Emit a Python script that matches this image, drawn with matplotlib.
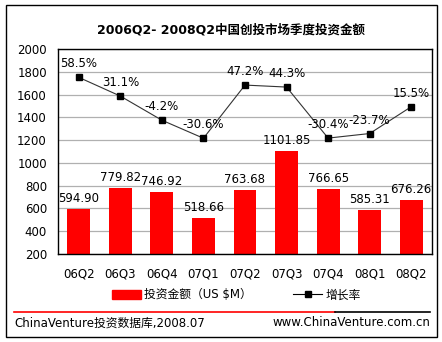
import matplotlib
matplotlib.use("Agg")
import matplotlib.pyplot as plt
from matplotlib.patches import Rectangle
from matplotlib.lines import Line2D

plt.rcParams['font.family'] = ['DejaVu Sans', 'Noto Sans CJK SC']

quarters = ['06Q2', '06Q3', '06Q4', '07Q1', '07Q2', '07Q3', '07Q4', '08Q1', '08Q2']
amounts = [594.90, 779.82, 746.92, 518.66, 763.68, 1101.85, 766.65, 585.31, 676.26]
growth = [58.5, 31.1, -4.2, -30.6, 47.2, 44.3, -30.4, -23.7, 15.5]

W, H = 442, 342
fig = plt.figure(figsize=(W / 100, H / 100), dpi=100)

def px(x0, y0, x1, y1):
    # pixel box (top-left origin) -> figure fraction rect
    return [x0 / W, 1 - y1 / H, (x1 - x0) / W, (y1 - y0) / H]

ax = fig.add_axes(px(58, 49, 432, 254))
x = range(len(quarters))
ax.bar(x, amounts, width=0.55, color='#ff0000', zorder=2)
ax.set_ylim(200, 2000)
ax.set_xlim(-0.5, len(quarters) - 0.5)
ax.set_yticks(range(200, 2001, 200))
ax.set_xticks(list(x))
ax.set_xticklabels(quarters)
ax.tick_params(length=0, labelsize=8.5, pad=10)
ax.tick_params(axis='y', pad=8)
ax.grid(axis='y', color='#b0b0b0', linewidth=0.9, zorder=0)
for s in ax.spines.values():
    s.set_linewidth(1.0)
for xi, v in zip(x, amounts):
    ax.annotate(f'{v:.2f}', (xi, v), xytext=(0, 3), textcoords='offset points',
                ha='center', va='bottom', fontsize=8.5)

ax2 = ax.twinx()
ax2.set_ylim(-200, 100)
ax2.plot(x, growth, color='#333333', linewidth=0.8, marker='s', markersize=5,
         markerfacecolor='black', markeredgecolor='black', zorder=3)
ax2.set_yticks([])
for s in ax2.spines.values():
    s.set_visible(False)
for xi, g in zip(x, growth):
    ax2.annotate(f'{g:.1f}%', (xi, g), xytext=(0, 5), textcoords='offset points',
                 ha='center', va='bottom', fontsize=8.5)

fig.text(231 / W, 1 - 30 / H, '2006Q2- 2008Q2中国创投市场季度投资金额', ha='center', va='center',
         fontsize=9, fontweight='bold')

handles = [Rectangle((0, 0), 1, 1, color='#ff0000'),
           Line2D([0], [0], color='black', linewidth=0.8, marker='s', markersize=5)]
fig.legend(handles, ['投资金额（US $M）', '增长率'], loc='center',
           bbox_to_anchor=(0.535, 1 - 295 / H), ncol=2, frameon=False, fontsize=8.5,
           handlelength=2.4, columnspacing=3.5, handletextpad=0.3)

fig.add_artist(Line2D([14 / W, 335 / W], [1 - 312 / H] * 2, color='#ff0000', linewidth=1.2))
fig.add_artist(Line2D([335 / W, 430 / W], [1 - 312 / H] * 2, color='black', linewidth=1.2))
fig.text(14 / W, 1 - 323 / H, 'ChinaVenture投资数据库,2008.07', ha='left', va='center', fontsize=8.5)
fig.text(430 / W, 1 - 323 / H, 'www.ChinaVenture.com.cn', ha='right', va='center', fontsize=8.5)

fig.add_artist(Rectangle((6 / W, 1 - 337 / H), 431 / W, 332 / H, fill=False,
                         edgecolor='black', linewidth=1.0, transform=fig.transFigure))

fig.savefig('out.png', dpi=100)
